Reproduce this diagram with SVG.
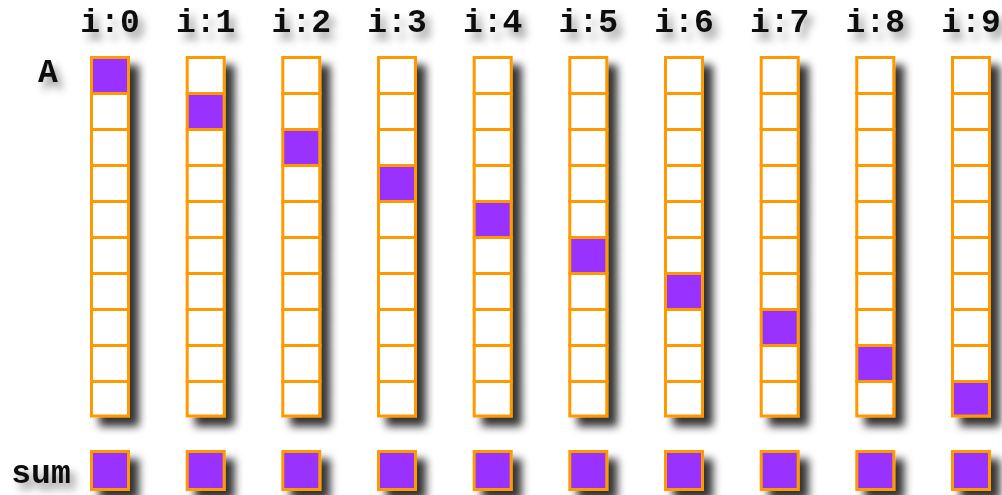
<svg xmlns="http://www.w3.org/2000/svg" width="1002" height="495" viewBox="0 0 1002 495">
<defs>
<filter id="sh" x="-30%" y="-10%" width="180%" height="130%">
<feDropShadow dx="9" dy="9" stdDeviation="4" flood-color="#000" flood-opacity="0.8"/>
</filter>
<filter id="tsh" x="-30%" y="-30%" width="160%" height="180%">
<feDropShadow dx="5" dy="7" stdDeviation="4" flood-color="#000" flood-opacity="0.45"/>
</filter>
<filter id="ssh" x="-30%" y="-30%" width="170%" height="170%">
<feDropShadow dx="9" dy="9" stdDeviation="4" flood-color="#000" flood-opacity="0.8"/>
</filter>
</defs>
<style>
.c{fill:#fff;stroke:#ff9900;stroke-width:3}
.p{fill:#9933ff;stroke:#ff9900;stroke-width:3}
.t{font-family:"Liberation Mono","Courier New",monospace;font-weight:bold;font-size:33px;fill:#111;text-anchor:middle}
</style>
<rect width="1002" height="495" fill="#fff"/>
<g id="labels" filter="url(#tsh)">
<text class="t" x="48" y="82" font-size="28">A</text>
<text class="t" x="41" y="483" font-size="31">sum</text>
<text class="t" x="110" y="32">i:0</text>
<text class="t" x="205.7" y="32">i:1</text>
<text class="t" x="301.3" y="32">i:2</text>
<text class="t" x="397" y="32">i:3</text>
<text class="t" x="492.7" y="32">i:4</text>
<text class="t" x="588.3" y="32">i:5</text>
<text class="t" x="684" y="32">i:6</text>
<text class="t" x="779.7" y="32">i:7</text>
<text class="t" x="875.3" y="32">i:8</text>
<text class="t" x="971" y="32">i:9</text>
</g>
<g id="col0" filter="url(#sh)" transform="translate(90,0)"><rect class="p" x="1.5" y="57.5" width="37" height="36"/><rect class="c" x="1.5" y="93.5" width="37" height="36"/><rect class="c" x="1.5" y="129.5" width="37" height="36"/><rect class="c" x="1.5" y="165.5" width="37" height="36"/><rect class="c" x="1.5" y="201.5" width="37" height="36"/><rect class="c" x="1.5" y="237.5" width="37" height="36"/><rect class="c" x="1.5" y="273.5" width="37" height="36"/><rect class="c" x="1.5" y="309.5" width="37" height="36"/><rect class="c" x="1.5" y="345.5" width="37" height="36"/><rect class="c" x="1.5" y="381.5" width="37" height="34.5"/></g>
<g id="col1" filter="url(#sh)" transform="translate(185.7,0)"><rect class="c" x="1.5" y="57.5" width="37" height="36"/><rect class="p" x="1.5" y="93.5" width="37" height="36"/><rect class="c" x="1.5" y="129.5" width="37" height="36"/><rect class="c" x="1.5" y="165.5" width="37" height="36"/><rect class="c" x="1.5" y="201.5" width="37" height="36"/><rect class="c" x="1.5" y="237.5" width="37" height="36"/><rect class="c" x="1.5" y="273.5" width="37" height="36"/><rect class="c" x="1.5" y="309.5" width="37" height="36"/><rect class="c" x="1.5" y="345.5" width="37" height="36"/><rect class="c" x="1.5" y="381.5" width="37" height="34.5"/></g>
<g id="col2" filter="url(#sh)" transform="translate(281.3,0)"><rect class="c" x="1.5" y="57.5" width="37" height="36"/><rect class="c" x="1.5" y="93.5" width="37" height="36"/><rect class="p" x="1.5" y="129.5" width="37" height="36"/><rect class="c" x="1.5" y="165.5" width="37" height="36"/><rect class="c" x="1.5" y="201.5" width="37" height="36"/><rect class="c" x="1.5" y="237.5" width="37" height="36"/><rect class="c" x="1.5" y="273.5" width="37" height="36"/><rect class="c" x="1.5" y="309.5" width="37" height="36"/><rect class="c" x="1.5" y="345.5" width="37" height="36"/><rect class="c" x="1.5" y="381.5" width="37" height="34.5"/></g>
<g id="col3" filter="url(#sh)" transform="translate(377,0)"><rect class="c" x="1.5" y="57.5" width="37" height="36"/><rect class="c" x="1.5" y="93.5" width="37" height="36"/><rect class="c" x="1.5" y="129.5" width="37" height="36"/><rect class="p" x="1.5" y="165.5" width="37" height="36"/><rect class="c" x="1.5" y="201.5" width="37" height="36"/><rect class="c" x="1.5" y="237.5" width="37" height="36"/><rect class="c" x="1.5" y="273.5" width="37" height="36"/><rect class="c" x="1.5" y="309.5" width="37" height="36"/><rect class="c" x="1.5" y="345.5" width="37" height="36"/><rect class="c" x="1.5" y="381.5" width="37" height="34.5"/></g>
<g id="col4" filter="url(#sh)" transform="translate(472.7,0)"><rect class="c" x="1.5" y="57.5" width="37" height="36"/><rect class="c" x="1.5" y="93.5" width="37" height="36"/><rect class="c" x="1.5" y="129.5" width="37" height="36"/><rect class="c" x="1.5" y="165.5" width="37" height="36"/><rect class="p" x="1.5" y="201.5" width="37" height="36"/><rect class="c" x="1.5" y="237.5" width="37" height="36"/><rect class="c" x="1.5" y="273.5" width="37" height="36"/><rect class="c" x="1.5" y="309.5" width="37" height="36"/><rect class="c" x="1.5" y="345.5" width="37" height="36"/><rect class="c" x="1.5" y="381.5" width="37" height="34.5"/></g>
<g id="col5" filter="url(#sh)" transform="translate(568.3,0)"><rect class="c" x="1.5" y="57.5" width="37" height="36"/><rect class="c" x="1.5" y="93.5" width="37" height="36"/><rect class="c" x="1.5" y="129.5" width="37" height="36"/><rect class="c" x="1.5" y="165.5" width="37" height="36"/><rect class="c" x="1.5" y="201.5" width="37" height="36"/><rect class="p" x="1.5" y="237.5" width="37" height="36"/><rect class="c" x="1.5" y="273.5" width="37" height="36"/><rect class="c" x="1.5" y="309.5" width="37" height="36"/><rect class="c" x="1.5" y="345.5" width="37" height="36"/><rect class="c" x="1.5" y="381.5" width="37" height="34.5"/></g>
<g id="col6" filter="url(#sh)" transform="translate(664,0)"><rect class="c" x="1.5" y="57.5" width="37" height="36"/><rect class="c" x="1.5" y="93.5" width="37" height="36"/><rect class="c" x="1.5" y="129.5" width="37" height="36"/><rect class="c" x="1.5" y="165.5" width="37" height="36"/><rect class="c" x="1.5" y="201.5" width="37" height="36"/><rect class="c" x="1.5" y="237.5" width="37" height="36"/><rect class="p" x="1.5" y="273.5" width="37" height="36"/><rect class="c" x="1.5" y="309.5" width="37" height="36"/><rect class="c" x="1.5" y="345.5" width="37" height="36"/><rect class="c" x="1.5" y="381.5" width="37" height="34.5"/></g>
<g id="col7" filter="url(#sh)" transform="translate(759.7,0)"><rect class="c" x="1.5" y="57.5" width="37" height="36"/><rect class="c" x="1.5" y="93.5" width="37" height="36"/><rect class="c" x="1.5" y="129.5" width="37" height="36"/><rect class="c" x="1.5" y="165.5" width="37" height="36"/><rect class="c" x="1.5" y="201.5" width="37" height="36"/><rect class="c" x="1.5" y="237.5" width="37" height="36"/><rect class="c" x="1.5" y="273.5" width="37" height="36"/><rect class="p" x="1.5" y="309.5" width="37" height="36"/><rect class="c" x="1.5" y="345.5" width="37" height="36"/><rect class="c" x="1.5" y="381.5" width="37" height="34.5"/></g>
<g id="col8" filter="url(#sh)" transform="translate(855.3,0)"><rect class="c" x="1.5" y="57.5" width="37" height="36"/><rect class="c" x="1.5" y="93.5" width="37" height="36"/><rect class="c" x="1.5" y="129.5" width="37" height="36"/><rect class="c" x="1.5" y="165.5" width="37" height="36"/><rect class="c" x="1.5" y="201.5" width="37" height="36"/><rect class="c" x="1.5" y="237.5" width="37" height="36"/><rect class="c" x="1.5" y="273.5" width="37" height="36"/><rect class="c" x="1.5" y="309.5" width="37" height="36"/><rect class="p" x="1.5" y="345.5" width="37" height="36"/><rect class="c" x="1.5" y="381.5" width="37" height="34.5"/></g>
<g id="col9" filter="url(#sh)" transform="translate(951,0)"><rect class="c" x="1.5" y="57.5" width="37" height="36"/><rect class="c" x="1.5" y="93.5" width="37" height="36"/><rect class="c" x="1.5" y="129.5" width="37" height="36"/><rect class="c" x="1.5" y="165.5" width="37" height="36"/><rect class="c" x="1.5" y="201.5" width="37" height="36"/><rect class="c" x="1.5" y="237.5" width="37" height="36"/><rect class="c" x="1.5" y="273.5" width="37" height="36"/><rect class="c" x="1.5" y="309.5" width="37" height="36"/><rect class="c" x="1.5" y="345.5" width="37" height="36"/><rect class="p" x="1.5" y="381.5" width="37" height="34.5"/></g>
<g id="sums" filter="url(#ssh)">
<rect class="p" x="91.5" y="451.5" width="37" height="38"/>
<rect class="p" x="187.2" y="451.5" width="37" height="38"/>
<rect class="p" x="282.8" y="451.5" width="37" height="38"/>
<rect class="p" x="378.5" y="451.5" width="37" height="38"/>
<rect class="p" x="474.2" y="451.5" width="37" height="38"/>
<rect class="p" x="569.8" y="451.5" width="37" height="38"/>
<rect class="p" x="665.5" y="451.5" width="37" height="38"/>
<rect class="p" x="761.2" y="451.5" width="37" height="38"/>
<rect class="p" x="856.8" y="451.5" width="37" height="38"/>
<rect class="p" x="952.5" y="451.5" width="37" height="38"/>
</g>
</svg>
